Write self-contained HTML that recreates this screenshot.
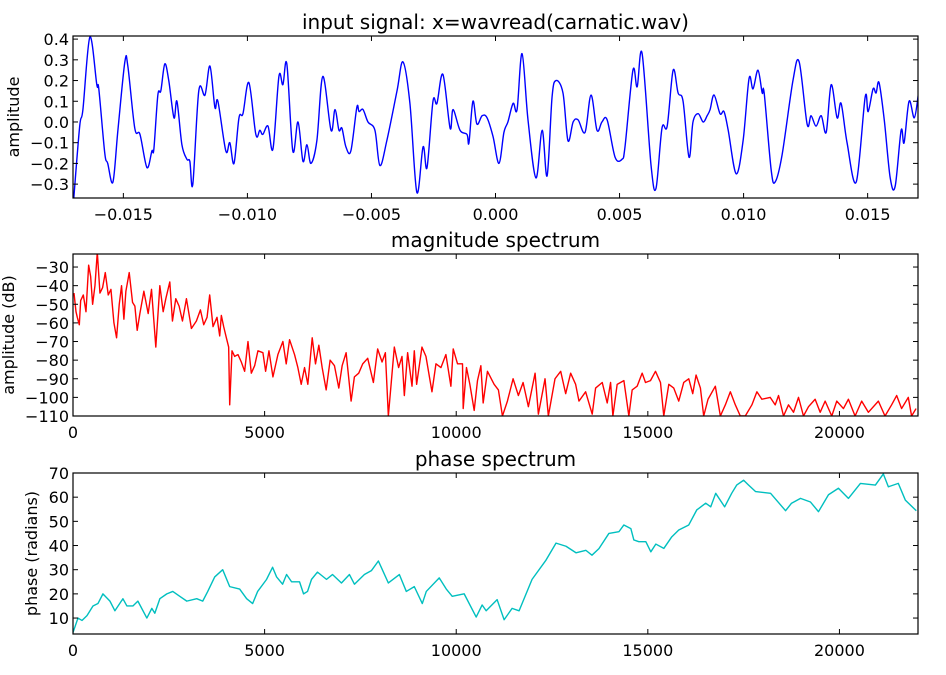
<!DOCTYPE html>
<html><head><meta charset="utf-8"><style>
html,body{margin:0;padding:0;background:#fff;}
svg text{font-family:"DejaVu Sans","Liberation Sans",sans-serif;fill:#000;}
</style></head><body>
<svg id="fig" width="946" height="670" viewBox="0 0 946 670" xmlns="http://www.w3.org/2000/svg"></svg>
<script>
// ---- Plot 1: input signal (time in ms, amplitude) ----
const sigTimeMs = [-17.0,-16.76,-16.63,-16.35,-16.07,-15.99,-15.75,-15.63,-15.42,-15.22,-14.94,-14.82,-14.54,-14.33,-14.05,-13.85,-13.77,-13.61,-13.49,-13.33,-13.17,-12.96,-12.84,-12.64,-12.44,-12.32,-12.20,-11.96,-11.71,-11.51,-11.31,-11.19,-10.87,-10.71,-10.54,-10.34,-10.18,-9.94,-9.66,-9.50,-9.38,-9.17,-8.97,-8.73,-8.57,-8.41,-8.17,-7.96,
-7.76,-7.60,-7.44,-7.20,-6.96,-6.63,-6.47,-6.31,-6.19,-6.03,-5.83,-5.59,-5.50,-5.34,-5.14,-4.86,-4.66,-4.38,-3.97,-3.73,-3.45,-3.17,-2.92,-2.76,-2.52,-2.36,-2.12,-1.83,-1.71,-1.43,-1.15,-1.07,-0.91,-0.75,-0.54,-0.34,-0.10,0.14,0.34,0.50,0.71,0.87,1.07,1.31,1.63,1.88,2.08,2.28,2.44,2.72,2.92,3.13,3.33,3.61,3.85,4.09,4.29,
4.50,4.82,5.10,5.22,5.54,5.71,5.91,6.27,6.47,6.71,6.92,7.16,7.36,7.56,7.80,7.96,8.17,8.37,8.53,8.65,8.81,9.05,9.21,9.38,9.70,9.98,10.22,10.38,10.58,10.75,10.83,11.11,11.27,11.55,11.99,12.24,12.56,12.72,12.92,13.13,13.33,13.53,13.77,13.93,14.17,14.54,14.90,15.02,15.22,15.34,15.46,15.67,15.91,16.11,16.35,16.47,16.67,16.88,17.04];
const sigAmp = [-0.37,-0.02,0.06,0.41,0.18,0.16,-0.15,-0.20,-0.29,-0.04,0.29,0.27,-0.03,-0.06,-0.22,-0.14,-0.13,0.13,0.15,0.28,0.20,0.02,0.10,-0.11,-0.18,-0.19,-0.30,0.15,0.13,0.27,0.07,0.10,-0.14,-0.10,-0.20,0.02,0.04,0.19,-0.06,-0.04,-0.06,-0.02,-0.13,0.22,0.18,0.28,-0.14,0.00,
-0.19,-0.11,-0.20,-0.09,0.22,-0.04,0.06,-0.04,-0.03,-0.12,-0.14,0.07,0.05,0.06,0.00,-0.04,-0.21,-0.09,0.15,0.29,0.09,-0.34,-0.12,-0.22,0.10,0.09,0.23,-0.03,0.06,-0.04,-0.06,-0.10,0.10,-0.01,0.03,0.02,-0.07,-0.20,-0.05,0.00,0.09,0.06,0.33,0.01,-0.27,-0.04,-0.26,0.12,0.20,0.14,-0.09,0.00,0.01,-0.05,0.13,-0.04,0.00,
0.01,-0.17,-0.18,-0.12,0.25,0.17,0.33,-0.21,-0.32,-0.03,-0.02,0.25,0.14,0.10,-0.17,0.00,0.04,0.00,0.03,0.06,0.13,0.04,0.05,-0.04,-0.25,-0.09,0.21,0.16,0.25,0.14,0.14,-0.23,-0.29,-0.16,0.20,0.29,-0.01,0.03,-0.02,0.03,-0.05,0.18,0.02,0.09,-0.10,-0.29,0.12,0.05,0.16,0.14,0.19,0.01,-0.27,-0.31,-0.04,-0.10,0.10,0.02,0.13];
const sigXTicks = [-0.015,-0.010,-0.005,0.000,0.005,0.010,0.015];
const sigXTickLabels = ["\u22120.015","\u22120.010","\u22120.005","0.000","0.005","0.010","0.015"];
const sigYTicks = [-0.3,-0.2,-0.1,0.0,0.1,0.2,0.3,0.4];
const sigYTickLabels = ["\u22120.3","\u22120.2","\u22120.1","0.0","0.1","0.2","0.3","0.4"];

// ---- Plot 2: magnitude spectrum (Hz, dB) ----
const magFreq = [26,78,112,165,200,269,339,408,460,512,573,634,703,773,842,920,990,1068,1137,1207,1267,1328,1380,1467,1554,1615,1675,1745,1849,1962,2049,2161,2266,2353,2422,2526,2595,2682,2769,2856,2960,3090,3220,3325,3411,3498,3567,3654,3758,3828,3871,3932,4002,4062,4089,4149,4219,4305,4392,4479,4566,4653,4740,4826,4956,5026,5113,5217,5347,5477,5564,5651,5781,5868,5955,6042,6128,6242,6328,6415,
6502,6606,6710,6823,6936,7023,7127,7257,7343,7456,7560,7690,7838,7950,8065,8151,8229,8385,8497,8585,8646,8732,8846,8906,8967,9106,9210,9367,9471,9601,9731,9861,9922,10034,10164,10182,10268,10356,10469,10555,10643,10703,10815,10989,11101,11206,11336,11484,11622,11745,11883,12058,12144,12318,12404,12578,12726,12856,12986,13116,13203,13377,13549,13637,13810,13940,14028,14088,14200,
14375,14505,14591,14721,14852,14939,15069,15200,15330,15416,15547,15677,15807,15937,16068,16172,16259,16372,16458,16571,16762,16893,17023,17153,17283,17413,17543,17716,17846,17976,18193,18324,18411,18541,18671,18802,18932,19062,19193,19366,19497,19627,19800,19930,20104,20234,20408,20580,20755,21016,21189,21362,21493,21622,21797,21883,22000];
const magDb = [-44,-54,-57,-61,-48,-45,-54,-29,-35,-50,-40,-22,-44,-41,-33,-45,-42,-60,-68,-50,-40,-58,-43,-33,-49,-51,-64,-55,-43,-55,-42,-73,-40,-54,-47,-38,-59,-47,-51,-59,-47,-63,-59,-53,-61,-57,-45,-62,-57,-67,-56,-62,-68,-73,-104,-75,-78,-77,-81,-86,-70,-87,-83,-75,-76,-86,-75,-89,-77,-70,-82,-69,-77,-84,-93,-84,-93,-68,-82,-72,
-84,-96,-80,-83,-95,-83,-76,-102,-89,-87,-82,-79,-92,-74,-81,-76,-110,-73,-84,-78,-99,-76,-94,-75,-93,-73,-78,-97,-82,-84,-77,-94,-74,-82,-82,-106,-84,-93,-107,-91,-83,-103,-86,-93,-96,-110,-102,-90,-99,-92,-105,-87,-109,-90,-110,-90,-86,-98,-87,-93,-102,-97,-109,-95,-92,-103,-92,-110,-93,
-91,-110,-96,-94,-87,-92,-91,-86,-92,-110,-93,-95,-102,-92,-90,-98,-88,-95,-110,-101,-94,-110,-104,-97,-104,-110,-110,-104,-97,-101,-100,-104,-99,-110,-104,-108,-100,-110,-105,-101,-108,-102,-110,-102,-106,-101,-110,-102,-108,-102,-110,-104,-99,-106,-100,-110,-106];
const specXTicks = [0,5000,10000,15000,20000];
const specXTickLabels = ["0","5000","10000","15000","20000"];
const magYTicks = [-110,-100,-90,-80,-70,-60,-50,-40,-30];
const magYTickLabels = ["\u2212110","\u2212100","\u221290","\u221280","\u221270","\u221260","\u221250","\u221240","\u221230"];

// ---- Plot 3: phase spectrum (Hz, radians) ----
const phaseFreq = [0,130,234,365,521,651,781,964,1094,1302,1406,1563,1693,1927,2057,2135,2266,2448,2604,2786,2969,3229,3385,3516,3698,3906,4089,4349,4531,4688,4818,5052,5208,5313,5469,5573,5703,5911,6016,6120,6224,6380,6615,6771,7005,7214,7344,7604,7786,7969,8229,8516,8698,8906,9115,9219,9557,9740,9896,10208,10521,10677,10781,11068,11250,11458,11641,11979,12344,12604,12865,13125,13385,13542,13724,13984,14245,14375,14557,14635,14766,14948,15078,15208,15417,15625,15807,16068,16276,16510,16641,16771,17005,17188,17318,17500,17630,17813,18203,18594,18750,18984,19245,19453,19714,19974,20234,20547,20938,21146,21276,21536,21719,22005];
const phaseRad = [4,10,9,11,15,16,20,17,13,18,15,15,17,10,14,12,18,20,21,19,17,18,17,21,27,30,23,22,18,16,21,26,31,27,24,28,25,25,20,21,26,29,26,28,24.5,28,24,28,29.6,33.6,24.5,28,21,23,16,21,26.6,22,19,20,10.4,15.4,13,17.6,9.3,14,13,26,34,41,39.7,37,38,36,38.7,45,45.7,48.5,47,42.3,41.6,41.6,37.4,40.6,38.8,43.6,46.4,48.5,54.7,57.5,56,61.6,56,61.6,65,67,65,62.3,61.6,54.4,57.5,59.5,58,54,61,63.7,59.5,65.7,65,69.6,64.3,65.7,58.8,54.4];
const phaseYTicks = [10,20,30,40,50,60,70];
const phaseYTickLabels = ["10","20","30","40","50","60","70"];

const NS = "http://www.w3.org/2000/svg";
const svg = document.getElementById("fig");
function mk(tag, attrs, parent){
  const e = document.createElementNS(NS, tag);
  for (const k in attrs) e.setAttribute(k, attrs[k]);
  (parent||svg).appendChild(e);
  return e;
}

function drawPlot(o){
  const g = mk("g", {});
  
  
  const L=73, R=918, T=o.top, B=o.bottom;
  const sx = v => L + (v - o.xmin) / (o.xmax - o.xmin) * (R - L);
  const sy = v => B - (v - o.ymin) / (o.ymax - o.ymin) * (B - T);
  const cid = "clip-" + o.name;
  const defs = mk("defs", {}, g);
  const cp = mk("clipPath", {id: cid}, defs);
  mk("rect", {x:L, y:T, width:R-L, height:B-T}, cp);
  const P = o.xs.map((x, i) => [sx(x), sy(o.ys[i])]);
  let d = "M" + P[0][0].toFixed(2) + "," + P[0][1].toFixed(2);
  for (let i = 1; i < P.length; i++) {
    if (o.smooth) {
      const p0 = P[i-2] || P[i-1], p1 = P[i-1], p2 = P[i], p3 = P[i+1] || P[i];
      const c1x = p1[0] + (p2[0]-p0[0])/6, c1y = p1[1] + (p2[1]-p0[1])/6;
      const c2x = p2[0] - (p3[0]-p1[0])/6, c2y = p2[1] - (p3[1]-p1[1])/6;
      d += "C" + c1x.toFixed(2) + "," + c1y.toFixed(2) + " " + c2x.toFixed(2) + "," + c2y.toFixed(2) + " " + p2[0].toFixed(2) + "," + p2[1].toFixed(2);
    } else {
      d += "L" + P[i][0].toFixed(2) + "," + P[i][1].toFixed(2);
    }
  }
  const line = mk("path", {d:d, fill:"none", stroke:o.color, "stroke-width":1.4, "stroke-linejoin":"round", "clip-path":"url(#"+cid+")"}, g);
  
  
  o.xTicks.forEach((v, i) => {
    const x = sx(v * (o.xTickScale || 1));
    mk("line", {x1:x, x2:x, y1:B, y2:B-5, stroke:"#000", "stroke-width":1}, g);
    mk("line", {x1:x, x2:x, y1:T, y2:T+5, stroke:"#000", "stroke-width":1}, g);
    const t = mk("text", {x:x, y:B+22, "font-size":"16", "text-anchor":"middle"}, g);
    t.textContent = o.xTickLabels[i];
    
    
  });
  o.yTicks.forEach((v, i) => {
    const y = sy(v);
    mk("line", {x1:L, x2:L+5, y1:y, y2:y, stroke:"#000", "stroke-width":1}, g);
    mk("line", {x1:R, x2:R-5, y1:y, y2:y, stroke:"#000", "stroke-width":1}, g);
    const t = mk("text", {x:L-4, y:y+6, "font-size":"16", "text-anchor":"end"}, g);
    t.textContent = o.yTickLabels[i];
    
    
  });
  const frame = mk("rect", {x:L, y:T, width:R-L, height:B-T, fill:"none", stroke:"#000", "stroke-width":1.2}, g);
  
  
  const title = mk("text", {x:(L+R)/2, y:T-7, "font-size":"20", "text-anchor":"middle"}, g);
  title.textContent = o.title;
  
  
  const yl = mk("text", {x:0, y:0, "font-size":"16", "text-anchor":"middle", transform:"translate("+o.ylabelX+","+((T+B)/2)+") rotate(-90)"}, g);
  yl.textContent = o.ylabel;
  
  
}

drawPlot({name:"input-signal-plot", top:36, bottom:198, xmin:-17.03, xmax:17.03, ymin:-0.367, ymax:0.415,
  xs:sigTimeMs, ys:sigAmp, color:"#0000ff", smooth:true, xTicks:sigXTicks, xTickScale:1000, xTickLabels:sigXTickLabels,
  yTicks:sigYTicks, yTickLabels:sigYTickLabels, title:"input signal: x=wavread(carnatic.wav)", ylabel:"amplitude", ylabelX:19});
drawPlot({name:"magnitude-spectrum-plot", top:254, bottom:416, xmin:0, xmax:22050, ymin:-110, ymax:-23,
  xs:magFreq, ys:magDb, color:"#ff0000", xTicks:specXTicks, xTickLabels:specXTickLabels,
  yTicks:magYTicks, yTickLabels:magYTickLabels, title:"magnitude spectrum", ylabel:"amplitude (dB)", ylabelX:14});
drawPlot({name:"phase-spectrum-plot", top:473, bottom:634, xmin:0, xmax:22050, ymin:3.4, ymax:70,
  xs:phaseFreq, ys:phaseRad, color:"#00bfbf", xTicks:specXTicks, xTickLabels:specXTickLabels,
  yTicks:phaseYTicks, yTickLabels:phaseYTickLabels, title:"phase spectrum", ylabel:"phase (radians)", ylabelX:37});
</script>
</body></html>
